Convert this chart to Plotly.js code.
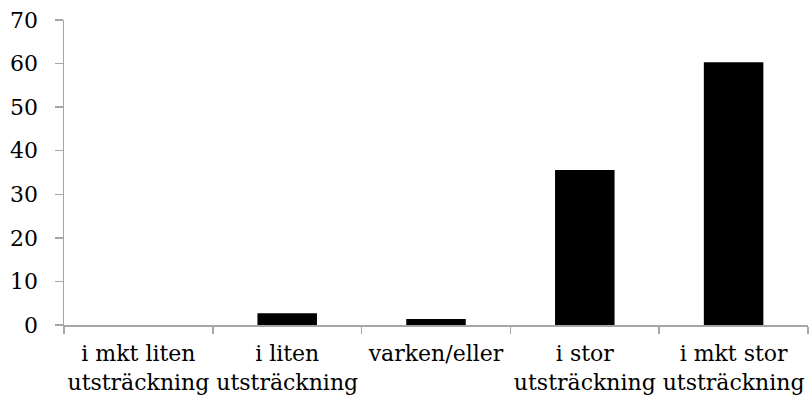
<!DOCTYPE html>
<html>
<head>
<meta charset="utf-8">
<script src="https://cdn.plot.ly/plotly-3.0.1.min.js"></script>
<style>html,body{margin:0;padding:0;background:#fff;}#chart{width:809px;height:408px;}</style>
</head>
<body>
<div id="chart"></div>
<script>
const categories = ["i mkt liten<br>utsträckning", "i liten<br>utsträckning", "varken/eller", "i stor<br>utsträckning", "i mkt stor<br>utsträckning"];
const values = [0, 2.7, 1.4, 35.6, 60.3];
const yTicks = [0, 10, 20, 30, 40, 50, 60, 70];

const trace = {
  type: "bar",
  x: categories,
  y: values,
  marker: {color: "#000000", line: {width: 0}},
  hoverinfo: "x+y"
};

const layout = {
  width: 809,
  height: 408,
  margin: {l: 64, r: 1, t: 20, b: 83},
  paper_bgcolor: "#ffffff",
  plot_bgcolor: "#ffffff",
  showlegend: false,
  bargap: 0.6,
  font: {family: "DejaVu Serif, serif", size: 22, color: "#000000"},
  xaxis: {
    type: "category",
    range: [-0.5, 4.5],
    showline: true,
    linecolor: "#a6a6a6",
    linewidth: 1.5,
    ticks: "outside",
    tickson: "boundaries",
    ticklen: 7,
    tickcolor: "#a6a6a6",
    tickwidth: 1.5,
    showgrid: false,
    zeroline: false,
    tickangle: 0,
    ticklabelstandoff: 8,
    tickfont: {family: "DejaVu Serif, serif", size: 22, color: "#000000"}
  },
  yaxis: {
    range: [0, 70],
    tickvals: yTicks,
    ticktext: yTicks.map(String),
    showline: true,
    linecolor: "#a6a6a6",
    linewidth: 1.5,
    ticks: "outside",
    ticklen: 8,
    tickcolor: "#a6a6a6",
    tickwidth: 1.5,
    showgrid: false,
    zeroline: false,
    ticklabelstandoff: 12,
    tickfont: {family: "DejaVu Serif, serif", size: 22, color: "#000000"}
  }
};

Plotly.newPlot("chart", [trace], layout, {displayModeBar: false, staticPlot: true});
</script>
</body>
</html>
